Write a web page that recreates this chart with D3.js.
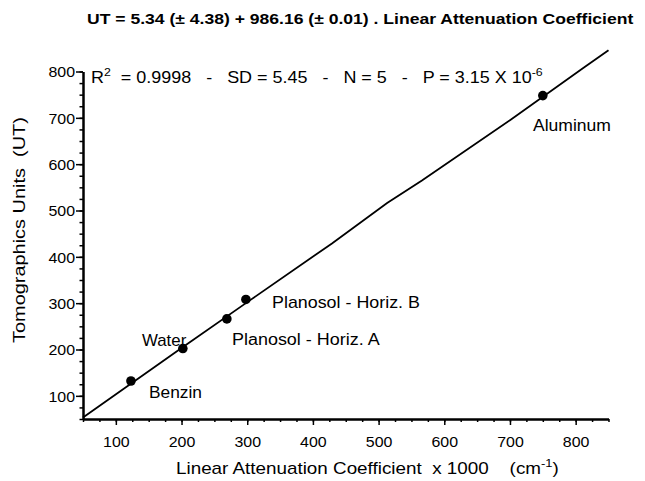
<!DOCTYPE html>
<html><head><meta charset="utf-8">
<script src="https://cdn.jsdelivr.net/npm/d3@7"></script>
<style>
body{margin:0;background:#fff;}
text{font-family:"Liberation Sans",Arial,sans-serif;fill:#000;}
</style></head>
<body><svg id="c" width="645" height="481"></svg>
<script>
const materials = ["Benzin","Water","Planosol - Horiz. A","Planosol - Horiz. B","Aluminum"];
const lac = [123, 202, 269, 298, 750];
const ut = [132, 202, 266, 308, 748];
const fitX = [50, 125, 200, 304, 429, 513, 566, 700, 811, 850];
const fitY = [53, 128, 203, 306, 429, 516, 565, 695, 807, 846];
const xTicks = [100,200,300,400,500,600,700,800];
const yTicks = [100,200,300,400,500,600,700,800];
const minorX = d3.range(50, 851, 25);
const minorY = d3.range(50, 801, 25);

const svg = d3.select("#c");
const x = d3.scaleLinear().domain([50,850]).range([83,608.5]);
const y = d3.scaleLinear().domain([50,800]).range([419,71.5]);

// fit a text horizontally to span [x0,x1]
function fitSpan(t, x0, x1){
  const b = t.node().getBBox();
  const sx = (x1-x0)/b.width;
  t.attr("transform",`translate(${x0},0) scale(${sx},1) translate(${-b.x},0)`);
}

// axes
const gx = svg.append("g").attr("transform","translate(0,419)");
gx.call(d3.axisBottom(x).tickValues(minorX).tickSize(3).tickFormat("").tickSizeOuter(0));
gx.append("g").call(d3.axisBottom(x).tickValues(xTicks).tickSize(6).tickFormat(d3.format("d")).tickSizeOuter(0));
const gy = svg.append("g").attr("transform","translate(83,0)");
gy.call(d3.axisLeft(y).tickValues(minorY).tickSize(3.5).tickFormat("").tickSizeOuter(0));
gy.append("g").call(d3.axisLeft(y).tickValues(yTicks).tickSize(7).tickFormat(d3.format("d")).tickSizeOuter(0));
svg.selectAll(".domain").attr("stroke","#000").attr("stroke-width",2);
svg.selectAll(".tick line").attr("stroke","#000").attr("stroke-width",1.5);
svg.selectAll(".tick text").style("font-family","Liberation Sans, Arial, sans-serif").style("font-size","14.5px").attr("fill","#000");
gx.selectAll(".tick text").attr("y",0).attr("dy","28px").attr("transform","scale(1.1,1)");
gy.selectAll(".tick text").attr("x",-8).attr("dy","0.36em").attr("transform","translate(-8,0) scale(1.1,1) translate(8,0)");

// fit line
const line = d3.line().x(d=>x(d[0])).y(d=>y(d[1]));
svg.append("path").datum(fitX.map((v,i)=>[v,fitY[i]]))
  .attr("d",line).attr("fill","none").attr("stroke","#000").attr("stroke-width",1.8);

// points
svg.selectAll("circle.pt").data(lac).join("circle")
  .attr("cx",d=>x(d)).attr("cy",(d,i)=>y(ut[i])).attr("r",4.8).attr("fill","#000");

// labels
const labSpan = [[149,202,398],[142,187,346],[232,380,345],[272,420,308],[533,611,131]];
materials.forEach((m,i)=>{
  const t = svg.append("text").attr("x",0).attr("y",labSpan[i][2]).style("font-size","16px").text(m);
  fitSpan(t, labSpan[i][0], labSpan[i][1]);
});

// title
const tt = svg.append("text").attr("x",0).attr("y",24)
  .style("font-size","15.5px").style("font-weight","bold")
  .text("UT = 5.34 (± 4.38) + 986.16 (± 0.01) . Linear Attenuation Coefficient");
fitSpan(tt, 87, 634);

// stats
const st = svg.append("text").attr("x",0).attr("y",83).style("font-size","16px").attr("xml:space","preserve");
st.append("tspan").text("R");
st.append("tspan").attr("dy",-7).style("font-size","11px").text("2");
st.append("tspan").attr("dy",7).text("  = 0.9998   -   SD = 5.45   -   N = 5   -   P = 3.15 X 10");
st.append("tspan").attr("dy",-7).style("font-size","11px").text("-6");
fitSpan(st, 91, 543);

// x title
const xt = svg.append("text").attr("x",0).attr("y",474).style("font-size","16px").attr("xml:space","preserve");
xt.append("tspan").text("Linear Attenuation Coefficient  x 1000    (cm");
xt.append("tspan").attr("dy",-7).style("font-size","11px").text("-1");
xt.append("tspan").attr("dy",7).text(")");
fitSpan(xt, 176, 559);

// y title
const yg = svg.append("g").attr("transform","translate(25,343) rotate(-90)");
const yt = yg.append("text").attr("x",0).attr("y",0).attr("xml:space","preserve")
  .style("font-size","16px").text("Tomographics Units  (UT)");
fitSpan(yt, 0, 226);
</script></body></html>
